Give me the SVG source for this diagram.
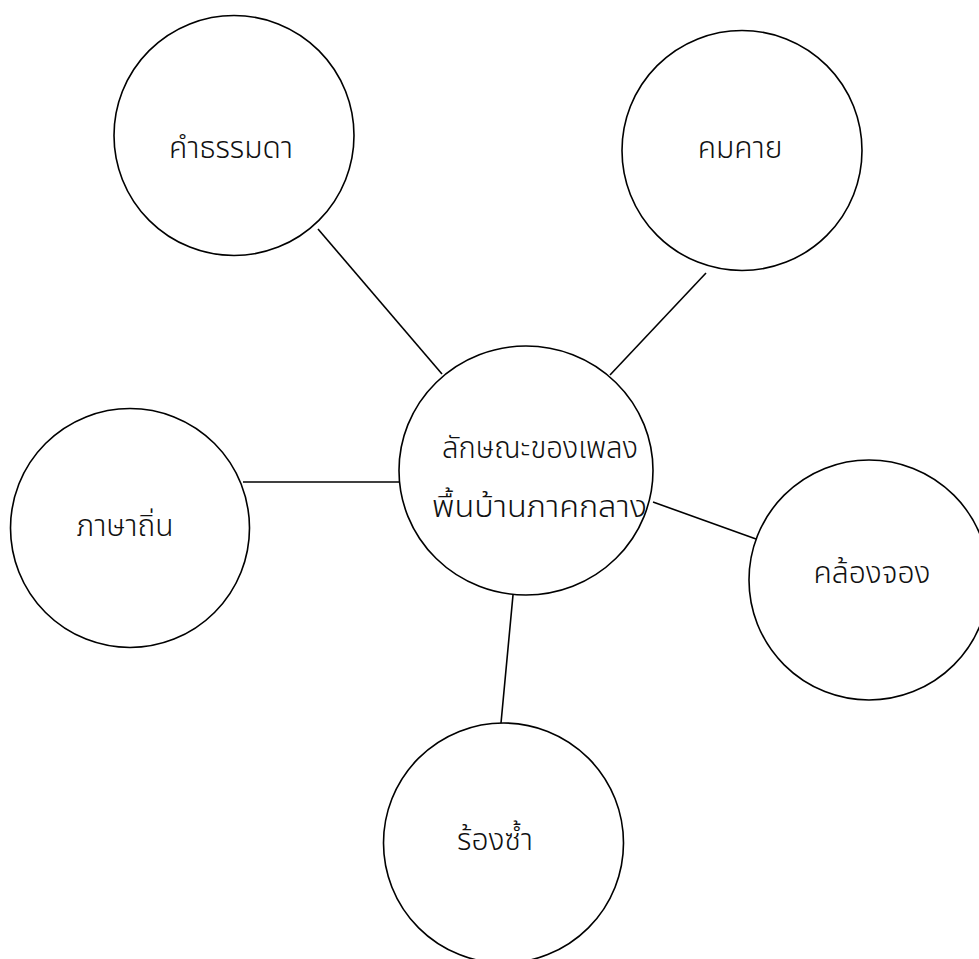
<svg xmlns="http://www.w3.org/2000/svg" width="979" height="959" viewBox="0 0 979 959">
<style>
.n{fill:#fff;stroke:#000;stroke-width:1.6}
.c line{stroke:#000;stroke-width:1.6}
text{font-family:"Noto Sans Thai","Noto Sans","DejaVu Sans",sans-serif;font-size:30px;font-weight:300;fill:#111;text-anchor:middle}
text.s{text-anchor:start}
</style>
<rect width="979" height="959" fill="#fff"/>
<g class="c" id="connectors">
<line x1="318" y1="229" x2="442" y2="374"/>
<line x1="706" y1="273" x2="610" y2="375"/>
<line x1="243" y1="482" x2="399" y2="482"/>
<line x1="653" y1="502" x2="756" y2="539"/>
<line x1="513" y1="595" x2="501" y2="723"/>
</g>
<g id="center">
<ellipse class="n" cx="526" cy="470.5" rx="127" ry="124.5"/>
<text class="s" x="442" y="458" textLength="196" lengthAdjust="spacingAndGlyphs">ลักษณะของเพลง</text>
<text class="s" x="432" y="517" textLength="215" lengthAdjust="spacingAndGlyphs">พื้นบ้านภาคกลาง</text>
</g>
<g id="n1">
<circle class="n" cx="234" cy="135.5" r="120"/>
<text x="231" y="158">คำธรรมดา</text>
</g>
<g id="n2">
<circle class="n" cx="742" cy="150.5" r="120"/>
<text x="740" y="158">คมคาย</text>
</g>
<g id="n3">
<circle class="n" cx="130" cy="528" r="119.5"/>
<text x="125" y="536">ภาษาถิ่น</text>
</g>
<g id="n4">
<circle class="n" cx="869" cy="580" r="120"/>
<text x="872" y="583">คล้องจอง</text>
</g>
<g id="n5">
<circle class="n" cx="503.5" cy="843" r="120"/>
<text x="495" y="850">ร้องซ้ำ</text>
</g>
</svg>
